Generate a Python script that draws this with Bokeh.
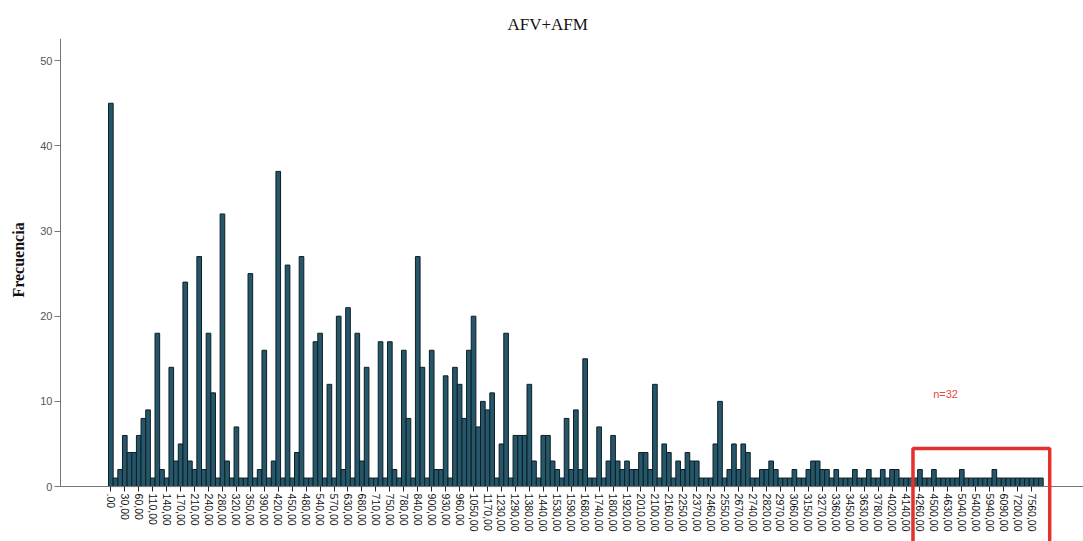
import math
from bokeh.plotting import figure
from bokeh.models import FixedTicker, BoxAnnotation, Label, Range1d
from bokeh.embed import file_html
from bokeh.resources import INLINE

# Frequency of each distinct AFV+AFM value (bars, left to right)
counts = [
    45, 1, 2, 6, 4, 4, 6, 8, 9, 1, 18, 2, 1, 14, 3, 5, 24, 3, 2, 27,
    2, 18, 11, 1, 32, 3, 1, 7, 1, 1, 25, 1, 2, 16, 1, 3, 37, 1, 26, 1,
    4, 27, 1, 1, 17, 18, 1, 12, 1, 20, 2, 21, 1, 18, 3, 14, 1, 1, 17, 1,
    17, 2, 1, 16, 8, 1, 27, 14, 1, 16, 2, 2, 13, 1, 14, 12, 8, 16, 20, 7,
    10, 9, 11, 1, 5, 18, 1, 6, 6, 6, 12, 3, 1, 6, 6, 3, 2, 1, 8, 2,
    9, 2, 15, 1, 1, 7, 1, 3, 6, 3, 2, 3, 2, 2, 4, 4, 2, 12, 1, 5,
    4, 1, 3, 2, 4, 3, 3, 1, 1, 1, 5, 10, 1, 2, 5, 2, 5, 4, 1, 1,
    2, 2, 3, 2, 1, 1, 1, 2, 1, 1, 2, 3, 3, 2, 2, 1, 2, 1, 1, 1,
    2, 1, 1, 2, 1, 1, 2, 1, 2, 2, 1, 1, 1, 1, 2, 1, 1, 2, 1, 1,
    1, 1, 1, 2, 1, 1, 1, 1, 1, 1, 2, 1, 1, 1, 1, 1, 1, 1, 1, 1,
    1,
]

# Category labels shown on the axis (every third category)
tick_labels = [
    ".00", "30,00", "60,00", "110,00", "140,00", "170,00", "210,00", "240,00",
    "280,00", "320,00", "350,00", "390,00", "420,00", "450,00", "480,00",
    "540,00", "570,00", "630,00", "680,00", "710,00", "750,00", "780,00",
    "840,00", "900,00", "930,00", "960,00", "1050,00", "1170,00", "1230,00",
    "1290,00", "1380,00", "1440,00", "1530,00", "1590,00", "1680,00",
    "1740,00", "1800,00", "1920,00", "2010,00", "2100,00", "2160,00",
    "2250,00", "2370,00", "2460,00", "2550,00", "2670,00", "2740,00",
    "2820,00", "2970,00", "3060,00", "3150,00", "3270,00", "3360,00",
    "3450,00", "3630,00", "3780,00", "4020,00", "4140,00", "4260,00",
    "4500,00", "4630,00", "5040,00", "5400,00", "5940,00", "6090,00",
    "7200,00", "7560,00",
]
label_step = 3
highlight_first = 173  # first category inside the highlighted box

y_ticks = [0, 10, 20, 30, 40, 50]
y_top = 52.6

n = len(counts)
xs = list(range(n))

x_start = -23.73          # left edge of the canvas, in category units
x_end = n - 0.5 + 8.67    # right edge of the canvas
y_axis_x = -10.83         # where the value axis stands

p = figure(
    width=1083, height=541,
    output_backend="svg", toolbar_location=None,
    x_range=Range1d(x_start, x_end),
    y_range=Range1d(-6.45, y_top),
    min_border_left=0, min_border_right=0,
    min_border_top=38, min_border_bottom=0,
)
p.outline_line_color = None
p.xgrid.visible = False
p.ygrid.visible = False
p.background_fill_color = "white"
p.border_fill_color = "white"

p.title.text = "AFV+AFM"
p.title.text_font = "Liberation Serif"
p.title.text_font_size = "17px"
p.title.text_font_style = "normal"
p.title.align = "left"
p.title.offset = 507
p.title.text_color = "#111111"

p.vbar(x=xs, top=counts, width=1.0, bottom=0,
       fill_color="#26566a", line_color="#0d1e24", line_width=1)

# X axis, pinned at zero
xa = p.xaxis[0]
xa.fixed_location = 0
xa.bounds = (y_axis_x, x_end)
xa.ticker = FixedTicker(ticks=[label_step * k for k in range(len(tick_labels))])
xa.major_label_overrides = {label_step * k: t for k, t in enumerate(tick_labels)}
xa.major_label_orientation = -math.pi / 2
xa.major_label_text_font = "Liberation Sans"
xa.major_label_text_font_size = "10.5px"
xa.major_label_text_color = "#111111"
xa.major_label_standoff = 2
xa.major_tick_out = 5
xa.major_tick_in = 0
xa.minor_tick_out = 0
xa.minor_tick_in = 0
xa.axis_line_color = "#777777"
xa.major_tick_line_color = "#222222"

# Y axis, pinned at its place
ya = p.yaxis[0]
ya.fixed_location = y_axis_x
ya.bounds = (0, y_top)
ya.ticker = FixedTicker(ticks=y_ticks)
ya.major_label_text_font = "Liberation Sans"
ya.major_label_text_font_size = "11px"
ya.major_label_text_color = "#555555"
ya.major_label_standoff = 2
ya.major_tick_out = 6
ya.major_tick_in = 0
ya.minor_tick_out = 0
ya.minor_tick_in = 0
ya.axis_line_color = "#777777"
ya.major_tick_line_color = "#777777"

# Y axis title, centred on the visible axis span
p.add_layout(Label(x=x_start + 3.9, y=y_top / 2 + 0.3, text="Frecuencia",
                   angle=math.pi / 2, text_align="center",
                   text_baseline="middle", text_font="Liberation Serif",
                   text_font_style="bold", text_font_size="16px",
                   text_color="#111111"))

# Highlight box around the tail categories
box = BoxAnnotation(left=highlight_first - 0.5, right=n - 0.5 + 1.4,
                    top=4.46, bottom=-12,
                    fill_alpha=0, line_color="#e3312d", line_alpha=1.0,
                    line_width=3.5)
p.add_layout(box)

tail_total = sum(counts[highlight_first:])
p.add_layout(Label(x=(highlight_first + n) / 2 - 7.5, y=10.9,
                   text=f"n={tail_total}", text_align="center",
                   text_baseline="middle", text_font="Liberation Sans",
                   text_font_size="11px", text_color="#e5483f"))

open("out.html", "w").write(file_html(p, INLINE))
